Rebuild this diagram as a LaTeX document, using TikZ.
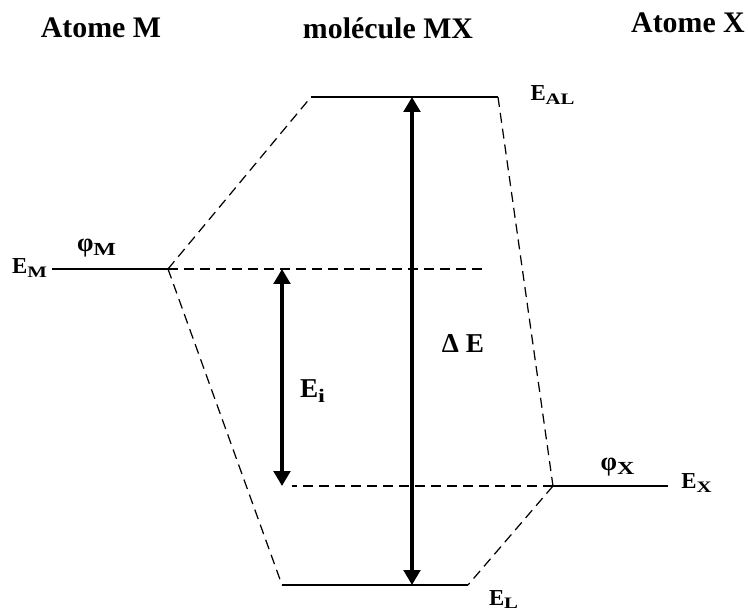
\documentclass[tikz,border=0pt]{standalone}
\usepackage{fontspec}
\setmainfont{Liberation Serif}
\usepackage{tikz}
\usetikzlibrary{arrows.meta}
\newcommand{\lsub}[1]{\textsubscript{\scalebox{1.3}[1]{#1}}}

\begin{document}
\begin{tikzpicture}[
  x=0.02cm,y=-0.02cm,
  font=\bfseries\fontsize{13}{15}\selectfont,
  title/.style={anchor=base,font=\bfseries\fontsize{17}{19}\selectfont},
  elabel/.style={anchor=base},
  orbital/.style={anchor=base,font=\bfseries\fontsize{15}{17}\selectfont},
  big/.style={anchor=base,font=\bfseries\fontsize{15.5}{17}\selectfont},
  level/.style={line width=0.8pt},
  link/.style={line width=0.7pt,dash pattern=on 5.7pt off 3.4pt},
  gap/.style={{Triangle[length=3mm,width=3.3mm]}-{Triangle[length=3mm,width=3.3mm]},line width=2.8pt}
]
\useasboundingbox (0,0) rectangle (748,611);

% energy levels
\coordinate (mleft) at (52,269);
\coordinate (mright) at (168,269);
\coordinate (xleft) at (553,486);
\coordinate (xright) at (668,486);
\coordinate (alleft) at (311,97);
\coordinate (alright) at (498,97);
\coordinate (lleft) at (282,585);
\coordinate (lright) at (468,585);
\coordinate (mend) at (485,269);
\coordinate (xend) at (292,486);

\draw[level] (mleft)--(mright);
\draw[level] (xleft)--(xright);
\draw[level] (alleft)--(alright);
\draw[level] (lleft)--(lright);

\draw[link] (mright)--(alleft);
\draw[link] (mright)--(lleft);
\draw[link] (alright)--(xleft);
\draw[link] (xleft)--(lright);
\draw[link] (mright)--(mend);
\draw[link] (xleft)--(xend);

% gaps
\coordinate (dtop) at (412,97);
\coordinate (dbot) at (412,585);
\coordinate (itop) at (282,269);
\coordinate (ibot) at (282,486);
\draw[gap] (dbot)--(dtop);
\draw[gap] (ibot)--(itop);

% titles
\node[title] (atomem) at (101,38) {Atome M};
\node[title] (mol) at (388,39) {molécule MX};
\node[title] (atomex) at (688,33) {Atome X};

% labels
\node[elabel] (eal) at (553,101) {E\lsub{AL}};
\node[elabel] (em) at (30,274) {E\lsub{M}};
\node[orbital] (phim) at (97,252) {φ\lsub{M}};
\node[big] (de) at (463,353) {Δ E};
\node[big] (ei) at (313,398) {E\lsub{i}};
\node[orbital] (phix) at (618,471) {φ\lsub{X}};
\node[elabel] (ex) at (697,489) {E\lsub{X}};
\node[elabel] (el) at (504,605) {E\lsub{L}};
\end{tikzpicture}
\end{document}
